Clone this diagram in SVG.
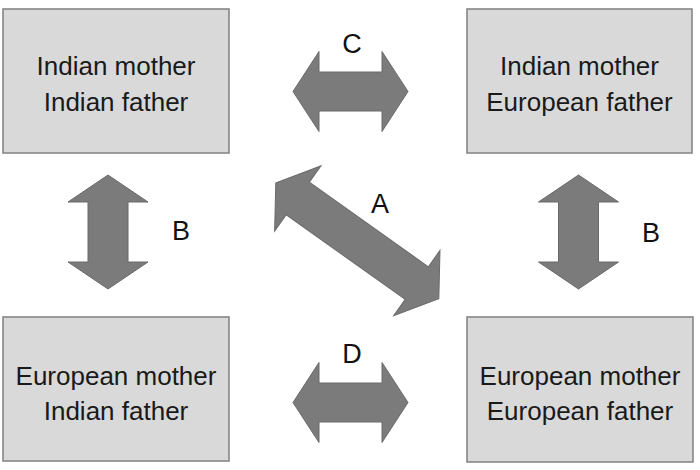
<svg xmlns="http://www.w3.org/2000/svg" width="700" height="470" viewBox="0 0 700 470">
<style>
.box{fill:#d9d9d9;stroke:#808080;stroke-width:1.5}
.t{font-family:"Liberation Sans",Arial,sans-serif;font-size:26px;fill:#1a1a1a;text-anchor:middle}
.lbl{font-family:"Liberation Sans",Arial,sans-serif;font-size:27px;fill:#111;text-anchor:middle}
.arr{fill:#7b7b7b;stroke:#6a6a6a;stroke-width:1}
</style>
<g id="n_ii">
<rect class="box" x="3" y="9" width="226" height="144"/>
<text class="t" x="116" y="75">Indian mother</text>
<text class="t" x="116" y="111">Indian father</text>
</g>
<g id="n_ie">
<rect class="box" x="467" y="9" width="225" height="144"/>
<text class="t" x="579.5" y="75">Indian mother</text>
<text class="t" x="579.5" y="111">European father</text>
</g>
<g id="n_ei">
<rect class="box" x="3" y="317" width="226" height="144"/>
<text class="t" x="116" y="385">European mother</text>
<text class="t" x="116" y="420">Indian father</text>
</g>
<g id="n_ee">
<rect class="box" x="467" y="317" width="226" height="145"/>
<text class="t" x="580" y="385">European mother</text>
<text class="t" x="580" y="420">European father</text>
</g>
<g id="connectors">
<path class="arr" transform="translate(350.5,91.5)" d="M-57.5,0 L-31.5,-40 L-31.5,-19.5 L31.5,-19.5 L31.5,-40 L57.5,0 L31.5,40 L31.5,19.5 L-31.5,19.5 L-31.5,40 Z"/>
<path class="arr" transform="translate(350.5,402.5)" d="M-57.5,0 L-31.5,-40 L-31.5,-19.5 L31.5,-19.5 L31.5,-40 L57.5,0 L31.5,40 L31.5,19.5 L-31.5,19.5 L-31.5,40 Z"/>
<path class="arr" transform="translate(108,232) rotate(90)" d="M-57,0 L-30,-40 L-30,-20 L30,-20 L30,-40 L57,0 L30,40 L30,20 L-30,20 L-30,40 Z"/>
<path class="arr" transform="translate(578.5,232) rotate(90)" d="M-57,0 L-30,-40 L-30,-20 L30,-20 L30,-40 L57,0 L30,40 L30,20 L-30,20 L-30,40 Z"/>
<path class="arr" transform="translate(357.3,240.8) rotate(35.4)" d="M-100,0 L-73,-40 L-73,-20 L73,-20 L73,-40 L100,0 L73,40 L73,20 L-73,20 L-73,40 Z"/>
<text class="lbl" x="352" y="53">C</text>
<text class="lbl" x="352" y="363">D</text>
<text class="lbl" x="181" y="240">B</text>
<text class="lbl" x="651" y="242">B</text>
<text class="lbl" x="380" y="213">A</text>
</g>
</svg>
